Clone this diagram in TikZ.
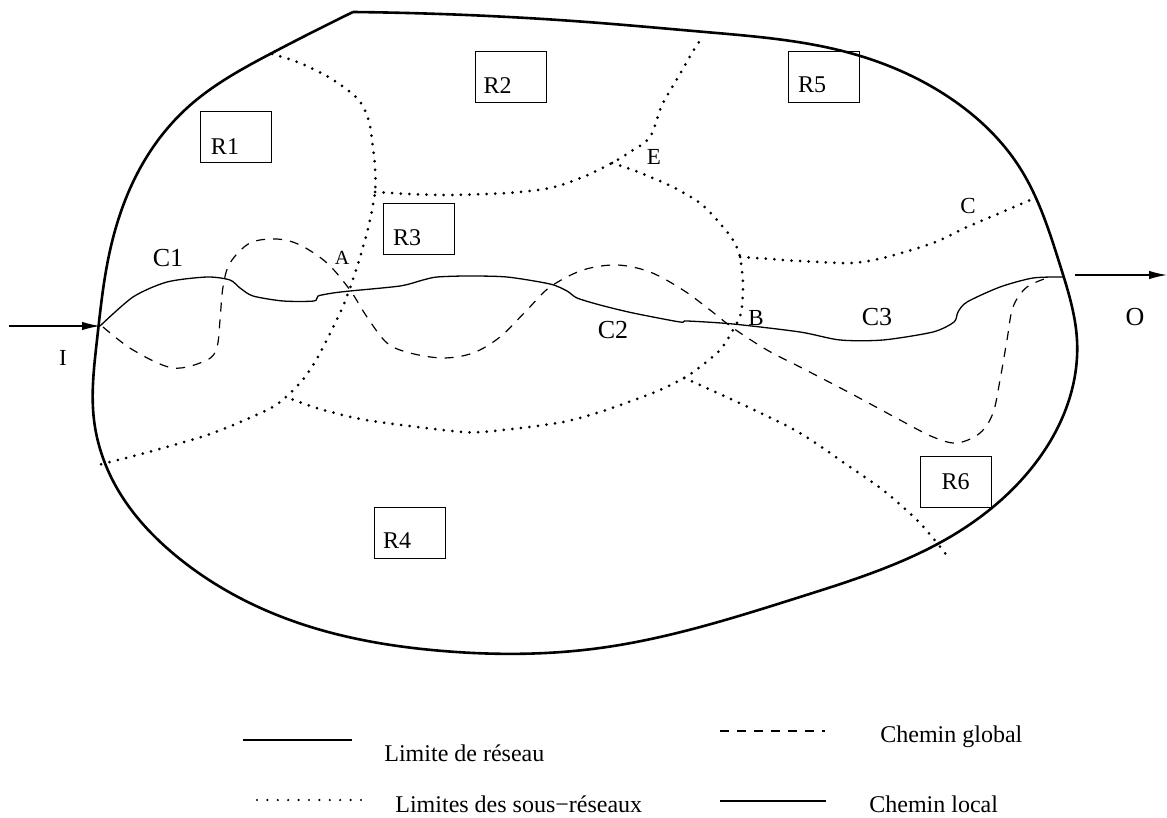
\documentclass[tikz,border=0pt]{standalone}
\usepackage{fontspec}
\setmainfont{Liberation Serif}
\usepackage{tikz}
\usetikzlibrary{arrows.meta, positioning, hobby}

\begin{document}
\begin{tikzpicture}[x=0.5pt, y=-0.5pt, use Hobby shortcut,
    limite/.style={line width=1.3pt},
    sousres/.style={line width=1.5pt, line cap=round, dash pattern=on 0pt off 4.3pt},
    legdots/.style={line width=1.2pt, line cap=round, dash pattern=on 0pt off 5.2pt},
    global/.style={line width=0.6pt, dash pattern=on 4.5pt off 4pt},
    local/.style={line width=0.65pt},
    rbox/.style={draw, line width=0.5pt, minimum width=35.5pt, minimum height=25.5pt, inner sep=0pt},
    rlab/.style={font=\fontsize{12}{14}\selectfont, inner sep=0pt},
    clab/.style={font=\fontsize{13}{15}\selectfont, inner sep=0pt},
    plab/.style={font=\fontsize{11.5}{14}\selectfont, inner sep=0pt},
    leg/.style={font=\fontsize{12}{14}\selectfont, inner sep=0pt, anchor=base west}]
    \useasboundingbox (0,0) rectangle (1167,818);

    % Limite de reseau
    \draw[limite] (353,12) .. (272,53) .. (187,108) .. (134,180) .. (108,260) .. (97,340) .. (94,420) .. (118,490) .. (175,555) .. (290,620) .. (443,651) .. (600,648) .. (800,597) .. (950,537) .. (1030,470) .. (1069,400) .. (1077,340) .. (1060,265) .. (1020,168) .. (950,98) .. (850,53) .. (705,32) .. (600,23) .. (353,12);

    % Sous-reseaux
    \coordinate (j1) at (375,192);
    \coordinate (j2) at (612,163);
    \coordinate (j3) at (286,397);
    \coordinate (j4) at (740,257);
    \coordinate (j5) at (684,378);
    \draw[sousres] plot[smooth, tension=0.5] coordinates {(272,54) (300,63) (330,78) (357,98) (368,118) (372,140) (375,167) (j1) (370,220) (365,240) (357,267) (350,288) (340,313) (320,353) (305,377) (j3) (267,410) (213,433) (156,450) (110,462) (94,466)};
    \draw[sousres] plot[smooth, tension=0.5] coordinates {(j1) (410,194) (450,195) (507,193) (550,188) (583,177) (j2) (630,152) (650,137) (662,105) (680,74) (692,53) (703,36)};
    \draw[sousres] plot[smooth, tension=0.5] coordinates {(j2) (633,170) (650,177) (673,187) (700,203) (717,220) (733,240) (j4) (743,285) (741,313) (733,330) (720,350) (700,367) (j5) (660,390) (634,400) (600,412) (558,423) (481,432) (443,430) (366,420) (320,409) (j3)};
    \draw[sousres] plot[smooth, tension=0.5] coordinates {(j4) (770,259) (800,261) (850,263) (883,258) (933,243) (967,227) (1000,213) (1037,197)};
    \draw[sousres] plot[smooth, tension=0.5] coordinates {(j5) (700,385) (750,408) (800,433) (850,467) (883,490) (917,520) (937,543) (948,557)};

    % Chemin global
    \draw[global] plot[smooth, tension=0.55] coordinates {(103,327) (133,350) (173,368) (207,360) (217,347) (220,320) (223,287) (230,263) (250,243) (277,239) (300,245) (327,263) (350,290) (367,317) (387,343) (410,353) (443,358) (473,353) (500,337) (527,310) (550,287) (583,270) (617,265) (650,272) (683,290) (710,310) (733,328) (767,350) (800,367) (850,393) (900,420) (933,437) (957,443) (980,433) (993,413) (1000,380) (1007,340) (1013,307) (1027,287) (1050,277)};

    % Chemin local
    \draw[local] plot[smooth, tension=0.45] coordinates {(100,326) (133,297) (167,282) (207,277) (230,280) (240,288) (253,296) (283,301) (314,301) (318,296) (333,293) (350,291) (400,286) (423,280) (437,277) (467,276) (507,277) (550,284) (567,291) (577,298) (600,305) (633,313) (680,322) (687,321) (733,324) (800,332) (840,340) (883,340) (933,332) (954,322) (958,312) (967,302) (1000,287) (1033,278) (1063,277)};

    % Entree / sortie
    \coordinate (iin) at (9,326);
    \coordinate (iport) at (100,326);
    \coordinate (oport) at (1075,275);
    \coordinate (oout) at (1167,275);
    \draw[line width=0.6pt, -{Latex[length=9pt, width=4.2pt]}] (iin) -- (iport);
    \draw[line width=0.6pt, -{Latex[length=9pt, width=4.2pt]}] (oport) -- (oout);
    \node[plab] (li) at (63,358) {I};
    \node[clab] (lo) at (1135,317) {O};

    % Sous-reseaux R1..R6
    \node[rbox] (r1) at (236,137.5) {};
    \node[rbox] (r2) at (510.5,77.5) {};
    \node[rbox] (r3) at (418.5,229) {};
    \node[rbox] (r4) at (409.5,532.5) {};
    \node[rbox] (r5) at (823.5,77.5) {};
    \node[rbox] (r6) at (955.5,482) {};
    \node[rlab] (t1) at ([shift={(-11,9.5)}]r1.center) {R1};
    \node[rlab] (t2) at ([shift={(-13,8.5)}]r2.center) {R2};
    \node[rlab] (t3) at ([shift={(-11.5,9)}]r3.center) {R3};
    \node[rlab] (t4) at ([shift={(-12.5,8.5)}]r4.center) {R4};
    \node[rlab] (t5) at ([shift={(-11.5,7.5)}]r5.center) {R5};
    \node[rlab] (t6) at (r6.center) {R6};

    % Points et chemins
    \node[font=\fontsize{10}{12}\selectfont, inner sep=0pt] (pa) at (342,258) {A};
    \node[plab] (pb) at (756,318) {B};
    \node[plab] (pc) at (968,206) {C};
    \node[plab] (pe) at (654,157) {E};
    \node[clab] (c1) at (168,258) {C1};
    \node[clab] (c2) at (613,330) {C2};
    \node[clab] (c3) at (877,317) {C3};

    % Legende
    \draw[limite] (243,740) -- (352,740);
    \node[leg] (l1) at (384,761) {Limite de réseau};
    \draw[legdots] (257,800) -- (362,800);
    \node[leg] (l2) at (395,812) {Limites des sous−réseaux};
    \draw[global] (720,731) -- (825,731);
    \node[leg] (l3) at (880,742) {Chemin global};
    \draw[local] (720,801) -- (826,801);
    \node[leg] (l4) at (869,812) {Chemin local};
\end{tikzpicture}
\end{document}
